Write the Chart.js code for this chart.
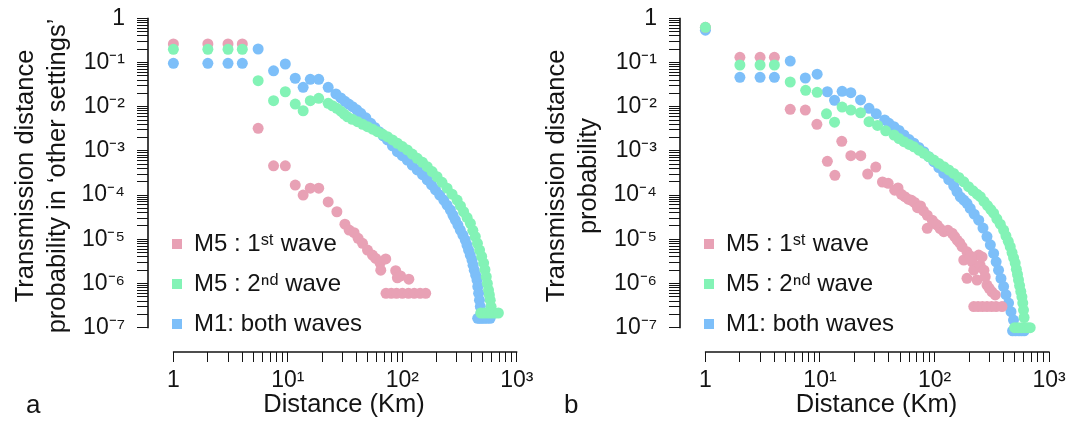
<!DOCTYPE html>
<html><head><meta charset="utf-8">
<script src="https://cdn.jsdelivr.net/npm/chart.js@4.4.1/dist/chart.umd.min.js"></script>
<style>
html,body{margin:0;padding:0;background:#fff;}
#wrap{position:relative;width:1084px;height:425px;overflow:hidden;background:#fff;}
canvas{position:absolute;top:0;}
#ca{left:0}
#cb{left:540px}
.tag{position:absolute;top:389px;font:26px 'Liberation Sans',Arial,sans-serif;line-height:30px;color:#141414;}
</style></head><body>
<div id="wrap">
<canvas id="ca" width="540" height="425"></canvas>
<canvas id="cb" width="544" height="425"></canvas>
<div class="tag" style="left:26px">a</div>
<div class="tag" style="left:564px">b</div>
</div>
<script>
// ---------- data ----------
const seriesLabels = ['M5 : 1ˢᵗ wave', 'M5 : 2ⁿᵈ wave', 'M1: both waves'];
const xMajorTicks = [1, 10, 100, 1000];
const xTickLabels = ['1', '10¹', '10²', '10³'];
const yMajorTicks = [1e-7, 1e-6, 1e-5, 1e-4, 1e-3, 1e-2, 1e-1, 1];
const yTickLabels = ['10⁻⁷', '10⁻⁶', '10⁻⁵', '10⁻⁴', '10⁻³', '10⁻²', '10⁻¹', '1'];
const xTitle = 'Distance (Km)';
const yTitleA = ['Transmission distance', 'probability in ‘other settings’'];
const yTitleB = ['Transmission distance', 'probability'];

// panel a : [distance, probability]
const aPink = [[1,0.262],[2,0.262],[3,0.262],[4,0.262],[5.5,0.00325],[7.5,4.6e-4],[9.5,4.6e-4],[11.6,1.69e-4],[13.6,1.0e-4],[15.7,1.43e-4],[18.6,1.43e-4],[22.5,7.0e-5],[26.8,4.2e-5],[31.5,2.2e-5],[34.3,1.62e-5],[37.9,1.41e-5],[41.1,1.05e-5],[44.9,8.1e-6],[49.6,5.7e-6],[54.8,4.4e-6],[58.6,3.7e-6],[63.9,2.9e-6],[64.8,2.0e-6],[71.6,3.6e-6],[87.5,1.95e-6],[90.5,1.35e-6],[96.6,1.48e-6],[114,1.25e-6],[72,6.0e-7],[80,6.0e-7],[89,6.0e-7],[100,6.0e-7],[113,6.0e-7],[127,6.0e-7],[143,6.0e-7],[160,6.0e-7]];
const aGreen = [[1,0.199],[2,0.199],[3,0.199],[4,0.199],[5.5,0.0388],[7.5,0.0137],[9.5,0.0218],[11.6,0.0115],[13.6,0.0081],[15.7,0.0137],[18.6,0.0155],[22.5,0.0119],[24.5,0.0105],[26.8,0.0092],[29,0.0079],[31,0.0068],[33.2,0.0059],[36.5,0.0052],[40.6,0.00458],[45,0.0040],[49.6,0.00353],[55,0.0031],[60.6,0.00272],[67,0.0024],[74.1,0.0021],[82,0.00177],[90.5,0.00149],[100,0.00125],[110.5,0.00105],[122,0.00085],[135,0.00068],[150,0.00055],[165,0.00044],[182,0.00034],[201,0.00026],[222,0.000195],[246,0.000143],[272,0.000105],[301,7.7e-5],[322,5.7e-5],[343,4.2e-5],[368,3.1e-5],[393,2.3e-5],[413,1.6e-5],[434,1.15e-5],[453,8.1e-6],[473,5.7e-6],[493,4.1e-6],[513,2.9e-6],[527,2.05e-6],[541,1.43e-6],[553,1.0e-6],[566,7.1e-7],[576,5.5e-7],[586,4.2e-7],[596,3.0e-7],[485,2.15e-7],[520,2.15e-7],[560,2.15e-7],[600,2.15e-7],[645,2.15e-7],[690,2.15e-7]];
const aBlue = [[1,0.096],[2,0.096],[3,0.096],[4,0.096],[5.5,0.202],[7.5,0.065],[9.5,0.0925],[11.6,0.044],[13.6,0.0275],[15.7,0.0417],[18.6,0.0417],[22.5,0.0275],[26.3,0.0195],[29,0.0158],[31.5,0.0132],[34,0.0115],[36.7,0.0100],[40,0.0085],[43.4,0.0071],[48,0.0056],[53,0.0042],[57.5,0.0034],[62.6,0.00272],[68,0.0022],[74.1,0.00177],[82,0.0013],[90.5,0.00096],[100,0.00078],[110.5,0.00062],[122,0.00048],[135,0.00037],[150,0.00029],[165,0.00022],[180,0.00017],[195,0.000131],[212,0.0001],[230,7.7e-5],[246,5.9e-5],[263,4.6e-5],[277,3.5e-5],[291,2.7e-5],[306,2.1e-5],[321,1.62e-5],[338,1.25e-5],[355,9.6e-6],[367,7.4e-6],[379,5.7e-6],[392,4.4e-6],[406,3.4e-6],[415,2.6e-6],[425,2.0e-6],[437,1.55e-6],[449,1.2e-6],[456,8.5e-7],[464,6.0e-7],[472,4.2e-7],[480,3.0e-7],[488,2.2e-7],[496,1.63e-7],[455,1.63e-7],[475,1.63e-7],[520,1.63e-7],[550,1.63e-7],[585,1.63e-7]];

// panel b : [distance, probability]
const bPink = [[1,0.625],[2,0.131],[3,0.131],[4,0.131],[5.5,0.0087],[7.45,0.0084],[9.4,0.0040],[11.6,5.8e-4],[13.5,2.8e-4],[15.5,0.00165],[18.6,7.8e-4],[22.7,7.8e-4],[26.1,3.0e-4],[30.7,4.3e-4],[35.1,1.98e-4],[39.4,1.85e-4],[44.9,1.29e-4],[48,1.45e-4],[51.4,1.04e-4],[55,9.2e-5],[58.9,8.1e-5],[63,7.6e-5],[67,6.8e-5],[71,5.2e-5],[75.5,5.7e-5],[80,4.4e-5],[86.4,3.5e-5],[86.4,1.77e-5],[95.5,2.7e-5],[100,2.3e-5],[105.5,2.1e-5],[112,1.75e-5],[120.5,1.49e-5],[131,1.6e-5],[142.5,1.37e-5],[150,1.15e-5],[157.5,9.6e-6],[166,8.3e-6],[174,6.8e-6],[180,3.4e-6],[192,5.2e-6],[192,1.31e-6],[205,4.2e-6],[213,3.1e-6],[220,2.0e-6],[235,1.2e-6],[243,4.4e-6],[250,2.6e-6],[260,4.0e-6],[270,2.0e-6],[277,1.43e-6],[287,9.2e-7],[300,7.8e-7],[317,6.5e-7],[339,5.5e-7],[220,3.0e-7],[240,3.0e-7],[262,3.0e-7],[287,3.0e-7],[315,3.0e-7],[345,3.0e-7],[388,3.0e-7]];
const bGreen = [[1,0.625],[2,0.0878],[3,0.0878],[4,0.0878],[5.5,0.0362],[7.5,0.0235],[9.45,0.0212],[11.4,0.0069],[13.4,0.00446],[15.6,0.0098],[18.6,0.0084],[22.6,0.0073],[26.8,0.00458],[31.8,0.00376],[37.5,0.00285],[44.3,0.00229],[49,0.0019],[54.1,0.00162],[60,0.0014],[66.1,0.00124],[73,0.00104],[80.7,8.8e-4],[89,7.4e-4],[98.6,6.2e-4],[109,5.2e-4],[120.5,4.4e-4],[133,3.7e-4],[147,3.1e-4],[163,2.5e-4],[180,2.0e-4],[198,1.55e-4],[217,1.25e-4],[235,1.05e-4],[251,9.2e-5],[270,7.2e-5],[290,5.8e-5],[310,4.7e-5],[328,3.9e-5],[350,2.9e-5],[375,2.2e-5],[401,1.62e-5],[420,1.2e-5],[440,9.0e-6],[458,6.8e-6],[475,5.0e-6],[490,3.8e-6],[506,2.9e-6],[518,2.1e-6],[530,1.6e-6],[541,1.2e-6],[553,9.0e-7],[566,6.6e-7],[579,5.0e-7],[589,3.6e-7],[598,2.5e-7],[605,1.7e-7],[500,1.0e-7],[535,1.0e-7],[575,1.0e-7],[615,1.0e-7],[650,1.0e-7],[684,1.0e-7]];
const bBlue = [[1,0.54],[2,0.0463],[3,0.0463],[4,0.0463],[5.5,0.108],[7.45,0.0446],[9.45,0.0543],[11.6,0.0218],[13.4,0.0140],[15.6,0.0223],[18.6,0.0207],[22.6,0.0142],[26.8,0.0092],[31,0.0069],[36.7,0.0050],[40,0.0042],[44.3,0.00353],[49,0.0029],[54.1,0.00229],[60,0.0018],[66.1,0.00149],[73,0.0012],[80.7,9.6e-4],[89,7.4e-4],[98.6,5.7e-4],[109,4.2e-4],[120.5,3.1e-4],[133,2.25e-4],[147,1.62e-4],[157,1.2e-4],[168,9.1e-5],[180,7.7e-5],[192,6.5e-5],[205,5.0e-5],[222,3.7e-5],[243,2.7e-5],[265,1.8e-5],[287,1.15e-5],[307,7.5e-6],[328,4.8e-6],[345,3.1e-6],[362,2.0e-6],[380,1.3e-6],[401,8.5e-7],[420,5.6e-7],[443,3.6e-7],[465,2.3e-7],[489,1.49e-7],[480,8.5e-8],[510,8.5e-8],[545,8.5e-8],[575,8.5e-8],[607,8.5e-8]];

// ---------- styling ----------
const COLORS = ['#E8A1B5', '#83F3B6', '#7DBFF9'];
const DRAW_ORDER = [1, 0, 2];
const FONT = "'Liberation Sans', Arial, Helvetica, sans-serif";
const INK = '#141414';

function withMinors(majors) {
  const out = [];
  majors.forEach((m, i) => {
    out.push(m);
    if (i < majors.length - 1) for (let k = 2; k <= 9; k++) out.push(+(m * k).toPrecision(6));
  });
  return out;
}
function labelFor(majors, labels, v) {
  const i = majors.findIndex(m => Math.abs(Math.log10(m) - Math.log10(v)) < 1e-6);
  return i < 0 ? '' : labels[i];
}

const detachedAxes = {
  id: 'detachedAxes',
  afterDraw(chart) {
    const {ctx, chartArea, scales} = chart;
    const x = scales.x, y = scales.y;
    ctx.save();
    ctx.strokeStyle = INK;
    ctx.lineWidth = 1.6;
    ctx.beginPath();
    ctx.moveTo(x.getPixelForValue(xMajorTicks[0]) - 0.5, chartArea.bottom);
    ctx.lineTo(x.getPixelForValue(xMajorTicks[xMajorTicks.length - 1]) + 0.5, chartArea.bottom);
    ctx.moveTo(chartArea.left, y.getPixelForValue(yMajorTicks[0]) + 0.5);
    ctx.lineTo(chartArea.left, y.getPixelForValue(yMajorTicks[yMajorTicks.length - 1]) - 0.5);
    ctx.stroke();
    ctx.restore();
  }
};
const legendNudge = {
  id: 'legendNudge',
  afterLayout(chart) { if (chart.legend) { chart.legend.left += 8; } }
};

function build(id, series, yTitle, g) {
  const datasets = series.map((s, i) => ({
    label: seriesLabels[i],
    data: s.map(([x, y]) => ({x, y})),
    backgroundColor: COLORS[i], borderColor: COLORS[i], borderWidth: 0,
    pointRadius: 5.5, pointHoverRadius: 5.5, order: DRAW_ORDER[i], clip: false
  }));
  return new Chart(document.getElementById(id), {
    type: 'scatter',
    data: {datasets},
    options: {
      responsive: false, animation: false, devicePixelRatio: 1, events: [],
      layout: {padding: {left: 0, top: 0, right: g.padRight, bottom: 0}, autoPadding: false},
      plugins: {
        legend: {
          position: 'chartArea', align: 'end',
          labels: {boxWidth: 10, boxHeight: 10, padding: 16, color: INK,
            font: {family: FONT, size: 24},
            sort: (a, b) => a.datasetIndex - b.datasetIndex}
        },
        tooltip: {enabled: false}
      },
      scales: {
        x: {
          type: 'logarithmic', position: 'bottom', min: g.xMin, max: g.xMax,
          afterBuildTicks: s => { s.ticks = withMinors(xMajorTicks).map(v => ({value: v})); },
          afterFit: s => { s.height = 73; s.paddingLeft = 0; s.paddingRight = 0; s.paddingTop = 0; s.paddingBottom = 0; },
          grid: {display: true, drawOnChartArea: false, drawTicks: true, tickLength: 10, tickWidth: 1, tickColor: INK},
          border: {display: false},
          ticks: {autoSkip: false, maxRotation: 0, minRotation: 0, padding: 5, color: INK,
            font: {family: FONT, size: 23},
            callback: v => labelFor(xMajorTicks, xTickLabels, v)},
          title: {display: true, text: xTitle, color: INK,
            font: {family: FONT, size: 25.5, lineHeight: 1.25}, padding: {top: 0, bottom: 4}}
        },
        y: {
          type: 'logarithmic', position: 'left', min: Math.pow(10, -7.5498), max: Math.pow(10, 0.414),
          afterBuildTicks: s => { s.ticks = withMinors(yMajorTicks).map(v => ({value: v})); },
          afterFit: s => { s.width = g.yAxisX; s.paddingLeft = 0; s.paddingRight = 0; s.paddingTop = 0; s.paddingBottom = 0; },
          grid: {display: true, drawOnChartArea: false, drawTicks: true, tickLength: 11, tickWidth: 1, tickColor: INK},
          border: {display: false},
          ticks: {autoSkip: false, padding: 12, color: INK,
            font: {family: FONT, size: 23},
            callback: v => labelFor(yMajorTicks, yTickLabels, v)},
          title: {display: true, text: yTitle, color: INK,
            font: {family: FONT, size: 25.5, lineHeight: 1.25}, padding: {top: g.titlePad, bottom: 0}}
        }
      }
    },
    plugins: [detachedAxes, legendNudge]
  });
}

build('ca', [aPink, aGreen, aBlue], yTitleA,
  {yAxisX: 148, padRight: 0, xMin: Math.pow(10, -0.2061), xMax: Math.pow(10, 3.2026), titlePad: 10});
build('cb', [bPink, bGreen, bBlue], yTitleB,
  {yAxisX: 140, padRight: 11, xMin: Math.pow(10, -0.2087), xMax: Math.pow(10, 3.2087), titlePad: 1});
</script>
</body></html>
